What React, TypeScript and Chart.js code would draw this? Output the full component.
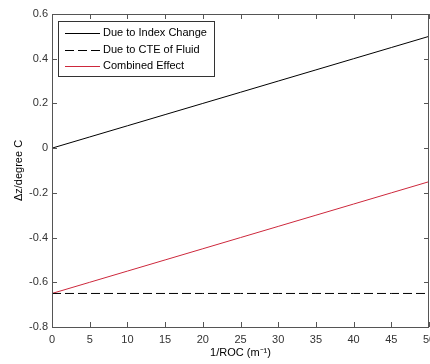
import React, { useEffect, useRef } from "react";
import { Chart, registerables } from "chart.js";

Chart.register(...registerables);

const xValues = [0, 5, 10, 15, 20, 25, 30, 35, 40, 45, 50];
const indexChange = [0, 0.05, 0.1, 0.15, 0.2, 0.25, 0.3, 0.35, 0.4, 0.45, 0.5];
const cteFluid = [-0.65, -0.65, -0.65, -0.65, -0.65, -0.65, -0.65, -0.65, -0.65, -0.65, -0.65];
const combined = [-0.65, -0.6, -0.55, -0.5, -0.45, -0.4, -0.35, -0.3, -0.25, -0.2, -0.15];
const seriesLabels = ["Due to Index Change", "Due to CTE of Fluid", "Combined Effect"];
const xTitle = "1/ROC (m\u207B\u00B9)";
const yTitle = "\u0394z/degree C";

const FONT = "Arial, 'Liberation Sans', sans-serif";
const AXIS_COLOR = "#555555";

const boxPlugin = {
  id: "matlabBox",
  afterDraw(chart: any) {
    const { ctx, chartArea } = chart;
    const { left, right, top, bottom } = chartArea;
    const xs = chart.scales.x;
    const ys = chart.scales.y;
    ctx.save();
    ctx.strokeStyle = AXIS_COLOR;
    ctx.lineWidth = 1;
    ctx.strokeRect(Math.round(left) + 0.5, Math.round(top) + 0.5, Math.round(right - left) - 1, Math.round(bottom - top));
    const tl = 5;
    ctx.beginPath();
    xs.ticks.forEach((t: any) => {
      const px = Math.round(xs.getPixelForValue(t.value)) + 0.5;
      ctx.moveTo(px, bottom);
      ctx.lineTo(px, bottom - tl);
      ctx.moveTo(px, top);
      ctx.lineTo(px, top + tl);
    });
    ys.ticks.forEach((t: any) => {
      const py = Math.round(ys.getPixelForValue(t.value)) + 0.5;
      ctx.moveTo(left, py);
      ctx.lineTo(left + tl, py);
      ctx.moveTo(right, py);
      ctx.lineTo(right - tl, py);
    });
    ctx.stroke();

    // legend
    const lx = 58, ly = 21, lw = 156, lh = 55;
    ctx.fillStyle = "#ffffff";
    ctx.fillRect(lx, ly, lw, lh);
    ctx.strokeStyle = "#333333";
    ctx.strokeRect(lx + 0.5, ly + 0.5, lw, lh);
    const rows = [33, 50, 66];
    chart.data.datasets.forEach((ds: any, i: number) => {
      const y = rows[i] + 0.5;
      ctx.beginPath();
      ctx.strokeStyle = ds.borderColor;
      ctx.lineWidth = 1;
      ctx.setLineDash(ds.borderDash || []);
      ctx.moveTo(65, y);
      ctx.lineTo(100, y);
      ctx.stroke();
      ctx.setLineDash([]);
      ctx.fillStyle = "#000000";
      ctx.font = `11px ${FONT}`;
      ctx.textBaseline = "middle";
      ctx.textAlign = "left";
      ctx.fillText(ds.label, 103, rows[i]);
    });
    ctx.restore();
  },
};

export default function App() {
  const ref = useRef<HTMLCanvasElement | null>(null);
  useEffect(() => {
    if (!ref.current) return;
    const chart = new Chart(ref.current, {
      type: "line",
      data: {
        labels: xValues,
        datasets: [
          { label: seriesLabels[0], data: xValues.map((x, i) => ({ x, y: indexChange[i] })), borderColor: "#000000", borderWidth: 1, pointRadius: 0 },
          { label: seriesLabels[1], data: xValues.map((x, i) => ({ x, y: cteFluid[i] })), borderColor: "#000000", borderWidth: 1, pointRadius: 0, borderDash: [9, 4] },
          { label: seriesLabels[2], data: xValues.map((x, i) => ({ x, y: combined[i] })), borderColor: "rgb(205,40,60)", borderWidth: 1, pointRadius: 0 },
        ],
      },
      options: {
        animation: false,
        responsive: false,
        maintainAspectRatio: false,
        layout: { padding: { top: 14, right: 1, bottom: 0, left: 0 } },
        plugins: { legend: { display: false }, tooltip: { enabled: false } },
        scales: {
          x: {
            type: "linear",
            min: 0,
            max: 50,
            grid: { display: false, drawTicks: false },
            border: { display: false },
            ticks: { stepSize: 5, color: "#333333", font: { family: FONT, size: 11 }, padding: 6, maxRotation: 0, autoSkip: false },
            title: { display: true, text: xTitle, color: "#000000", font: { family: FONT, size: 11 }, padding: { top: 0, bottom: 4 } },
            afterFit(scale: any) {
              scale.height = 37;
              scale.paddingLeft = 0;
              scale.paddingRight = 0;
            },
          },
          y: {
            type: "linear",
            min: -0.8,
            max: 0.6,
            grid: { display: false, drawTicks: false },
            border: { display: false },
            ticks: {
              stepSize: 0.2,
              color: "#333333",
              font: { family: FONT, size: 11 },
              padding: 4,
              callback: (v: any) => String(Number(Number(v).toFixed(1))),
            },
            title: { display: true, text: yTitle, color: "#000000", font: { family: FONT, size: 11 }, padding: { top: 12, bottom: 0 } },
            afterFit(scale: any) {
              scale.width = 52;
              scale.paddingTop = 0;
              scale.paddingBottom = 0;
            },
          },
        },
      },
      plugins: [boxPlugin],
    });
    return () => chart.destroy();
  }, []);
  return (
    <div style={{ position: "absolute", left: 0, top: 0, width: 430, height: 364, overflow: "hidden", background: "#fff" }}>
      <canvas ref={ref} width={430} height={364} style={{ display: "block" }} />
    </div>
  );
}
